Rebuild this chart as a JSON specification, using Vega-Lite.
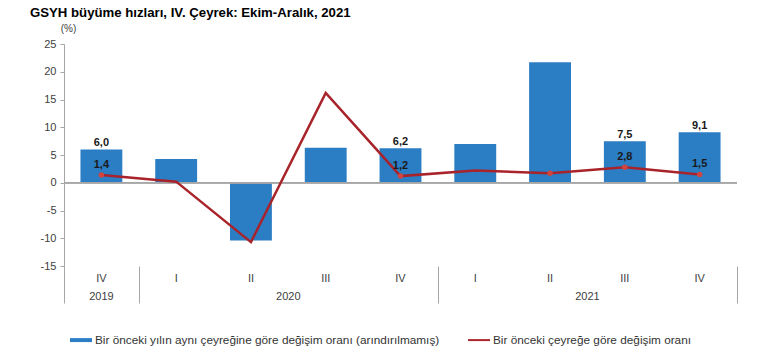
{
  "$schema": "https://vega.github.io/schema/vega-lite/v6.json",
  "autosize": "none",
  "width": 673,
  "height": 222,
  "padding": {"left": 64, "top": 44, "right": 27, "bottom": 96},
  "background": "white",
  "config": {
    "locale": {"number": {"decimal": ",", "thousands": ".", "grouping": [3], "currency": ["", ""], "minus": "-"}},
    "font": "Liberation Sans",
    "view": {"stroke": null},
    "axisY": {
      "grid": false,
      "domainColor": "#A6A6A6",
      "tickColor": "#A6A6A6",
      "tickSize": 4,
      "labelFontSize": 11,
      "labelColor": "#404040",
      "labelPadding": 4,
      "titleAngle": 0,
      "titleX": 4,
      "titleY": -16,
      "titleAlign": "center",
      "titleBaseline": "middle",
      "titleFontSize": 10,
      "titleFontWeight": "normal",
      "titleColor": "#404040"
    }
  },
  "title": {
    "text": "GSYH büyüme hızları, IV. Çeyrek: Ekim-Aralık, 2021",
    "anchor": "start",
    "frame": "group",
    "fontSize": 13.2,
    "fontWeight": "bold",
    "color": "#000000",
    "dx": -34,
    "offset": 3
  },
  "data": {
    "values": [
      {"q": "2019-IV", "yoy": 6.0, "qoq": 1.4},
      {"q": "2020-I", "yoy": 4.3, "qoq": 0.2},
      {"q": "2020-II", "yoy": -10.4, "qoq": -10.7},
      {"q": "2020-III", "yoy": 6.3, "qoq": 16.2},
      {"q": "2020-IV", "yoy": 6.2, "qoq": 1.2},
      {"q": "2021-I", "yoy": 7.0, "qoq": 2.2},
      {"q": "2021-II", "yoy": 21.7, "qoq": 1.7},
      {"q": "2021-III", "yoy": 7.5, "qoq": 2.8},
      {"q": "2021-IV", "yoy": 9.1, "qoq": 1.5}
    ]
  },
  "layer": [
    {
      "mark": {"type": "bar", "width": {"band": 0.56}},
      "encoding": {
        "x": {
          "field": "q", "type": "nominal", "sort": null,
          "scale": {"paddingInner": 0, "paddingOuter": 0},
          "axis": {
            "orient": "bottom",
            "title": null,
            "domain": false,
            "ticks": false,
            "tickSize": 0,
            "tickColor": "transparent",
            "tickOpacity": 0,
            "labelExpr": "split(datum.value, '-')[1]",
            "labelPadding": 6,
            "labelAngle": 0,
            "labelFontSize": 11,
            "labelColor": "#404040"
          }
        },
        "y": {
          "field": "yoy", "type": "quantitative",
          "scale": {"domain": [-15, 25]},
          "axis": {"title": "(%)", "values": [-15, -10, -5, 0, 5, 10, 15, 20, 25]}
        },
        "color": {
          "datum": "Bir önceki yılın aynı çeyreğine göre değişim oranı (arındırılmamış)",
          "type": "nominal",
          "scale": {
            "domain": ["Bir önceki yılın aynı çeyreğine göre değişim oranı (arındırılmamış)", "Bir önceki çeyreğe göre değişim oranı"],
            "range": ["#2B7DC4", "#A8232A"]
          },
          "legend": {
            "title": null,
            "orient": "none",
            "legendX": 6,
            "legendY": 285,
            "direction": "horizontal",
            "padding": 0,
            "symbolSize": 484,
            "labelOffset": 3,
            "labelLimit": 500,
            "columnPadding": 28,
            "labelFontSize": 11.8,
            "labelColor": "#333333",
            "encode": {
              "symbols": {
                "update": {
                  "shape": {"signal": "datum.value == 'Bir önceki çeyreğe göre değişim oranı' ? 'M-1,-0.09H1V0.09H-1Z' : 'M-1,-0.18H1V0.18H-1Z'"},
                  "fill": {"signal": "datum.value == 'Bir önceki çeyreğe göre değişim oranı' ? '#A8232A' : '#2B7DC4'"},
                  "fillOpacity": {"value": 1},
                  "opacity": {"value": 1},
                  "strokeWidth": {"value": 0}
                }
              }
            }
          }
        }
      }
    },
    {
      "mark": {"type": "rule", "color": "#A6A6A6", "strokeWidth": 1},
      "encoding": {"y": {"datum": 0, "type": "quantitative", "axis": {"title": "(%)", "values": [-15, -10, -5, 0, 5, 10, 15, 20, 25]}}}
    },
    {
      "transform": [{"filter": "indexof(['2019-IV','2020-IV','2021-III','2021-IV'], datum.q) >= 0"}],
      "mark": {"type": "text", "fontSize": 11, "fontWeight": "bold", "color": "#1A1A1A", "baseline": "alphabetic", "dy": -3},
      "encoding": {
        "x": {"field": "q", "type": "nominal", "sort": null, "axis": null},
        "y": {"field": "yoy", "type": "quantitative", "axis": {"title": "(%)", "values": [-15, -10, -5, 0, 5, 10, 15, 20, 25]}},
        "text": {"field": "yoy", "type": "quantitative", "format": ".1f"}
      }
    },
    {
      "mark": {"type": "line", "strokeWidth": 2.5},
      "encoding": {
        "x": {
          "field": "q", "type": "nominal", "sort": null,
          "axis": {
            "orient": "bottom",
            "title": null,
            "domain": false,
            "ticks": false,
            "tickSize": 0,
            "tickColor": "transparent",
            "tickOpacity": 0,
            "labelExpr": "datum.value == '2019-IV' ? '2019' : datum.value == '2020-II' ? '2020' : datum.value == '2021-II' ? '2021' : ''",
            "labelOffset": {"condition": {"test": "datum.value != '2019-IV'", "value": 37.4}, "value": 0},
            "labelPadding": 24,
            "labelAngle": 0,
            "labelOverlap": false,
            "labelBound": false,
            "labelFontSize": 11,
            "labelColor": "#404040"
          }
        },
        "y": {"field": "qoq", "type": "quantitative", "axis": {"title": "(%)", "values": [-15, -10, -5, 0, 5, 10, 15, 20, 25]}},
        "color": {"datum": "Bir önceki çeyreğe göre değişim oranı", "type": "nominal"}
      }
    },
    {
      "transform": [{"filter": "indexof(['2019-IV','2020-IV','2021-II','2021-III','2021-IV'], datum.q) >= 0"}],
      "mark": {"type": "point", "shape": "circle", "filled": true, "size": 30, "color": "#D0453F", "opacity": 1},
      "encoding": {
        "x": {
          "field": "q", "type": "nominal", "sort": null,
          "axis": {
            "orient": "bottom",
            "title": null,
            "domain": false,
            "labels": false,
            "ticks": true,
            "tickBand": "extent",
            "values": ["2019-IV", "2020-IV", "2021-IV"],
            "tickSize": 37,
            "tickColor": "#A6A6A6",
            "tickWidth": 1
          }
        },
        "y": {"field": "qoq", "type": "quantitative", "axis": {"title": "(%)", "values": [-15, -10, -5, 0, 5, 10, 15, 20, 25]}}
      }
    },
    {
      "transform": [{"filter": "indexof(['2019-IV','2020-IV','2021-III','2021-IV'], datum.q) >= 0"}],
      "mark": {"type": "text", "fontSize": 11, "fontWeight": "bold", "color": "#1A1A1A", "baseline": "alphabetic", "dy": -7},
      "encoding": {
        "x": {"field": "q", "type": "nominal", "sort": null, "axis": null},
        "y": {"field": "qoq", "type": "quantitative", "axis": {"title": "(%)", "values": [-15, -10, -5, 0, 5, 10, 15, 20, 25]}},
        "text": {"field": "qoq", "type": "quantitative", "format": ".1f"}
      }
    }
  ],
  "resolve": {"axis": {"x": "independent"}}
}
